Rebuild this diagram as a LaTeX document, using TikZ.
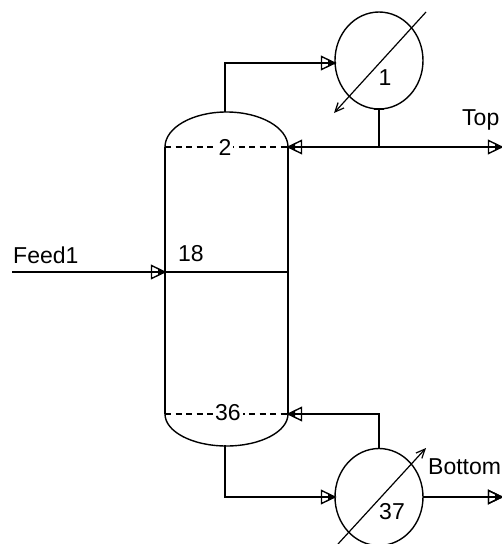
\documentclass[tikz,border=0pt]{standalone}
\usepackage{fontspec}
\setmainfont{Liberation Sans}
\usetikzlibrary{shapes.geometric,decorations.markings,calc,arrows.meta}
\tikzset{
  wire/.style={line width=1.8pt,draw=black},
  flow/.style={wire,postaction={decorate},decoration={markings,mark=at position 1 with {
    \draw[line width=1.4pt,fill=none] (-13.5pt,-6.5pt)--(0pt,0pt)--(-13.5pt,6.5pt)--cycle;
    \fill (-7pt,-3.6pt)--(0pt,0pt)--(-7pt,3.6pt)--cycle;}}},
  tickstart/.style={postaction={decorate},decoration={markings,mark=at position 0 with {
    \draw[line width=1.4pt] (0pt,-5pt)--(0pt,5pt);}}},
  vessel/.style={draw=black,line width=1.4pt,ellipse,minimum width=88pt,minimum height=97pt,inner sep=0pt,outer sep=0pt},
  tray/.style={line width=1.3pt,dash pattern=on 6pt off 4.5pt},
  label/.style={font=\fontsize{23}{25}\selectfont,inner sep=0pt,text=black},
  trayno/.style={label,fill=white,inner xsep=2pt},
  duty/.style={line width=1.2pt,-{Straight Barb[length=9pt,width=8pt]}}
}
\begin{document}
\begin{tikzpicture}[x=1pt,y=-1pt]
\useasboundingbox (0,0) rectangle (502,544);
% heat exchangers
\node[vessel] (cond) at (379,60.5) {};
\node[vessel] (reb) at (379,497) {};
% column ports
\coordinate (TL) at (165,147);
\coordinate (TR) at (288,147);
\coordinate (BL) at (165,414);
\coordinate (BR) at (288,414);
\coordinate (FL) at (165,272);
\coordinate (FR) at (288,272);
\coordinate (colTop) at (225,112);
\coordinate (colBot) at (225,445);
% column body
\draw[wire] (TL) -- (BL);
\draw[wire] (TR) -- (BR);
\draw[line width=1.4pt] (TL) arc[start angle=180,end angle=0,x radius=61.5,y radius=-35];
\draw[line width=1.4pt] (BL) arc[start angle=180,end angle=360,x radius=61.5,y radius=-32];
\draw[tray] (TL) -- (TR);
\draw[tray] (BL) -- (BR);
\draw[wire] (FL) -- (FR);
% free ends
\coordinate (feedIn) at (12,272);
\coordinate (topOut) at (502,147);
\coordinate (botOut) at (502,497);
\coordinate (refluxJ) at (cond.south |- TR);
\coordinate (condS) at (cond.south);
\coordinate (condIn) at (335,63);
\coordinate (rebN) at (reb.north);
\coordinate (c1) at (426,12);
\coordinate (c2) at (334,113);
\coordinate (r1) at (338,544);
\coordinate (r2) at (426,448);
% connectors
\draw[flow] (feedIn) -- (FL);
\draw[flow] (refluxJ) -- (TR);
\draw[flow] (refluxJ) -- (topOut);
\draw[wire] (condS) -- (refluxJ);
\draw[flow] (colTop) |- (condIn);
\draw[flow] (colBot) |- (reb.west);
\draw[flow] (rebN) |- (BR);
\draw[flow,tickstart] (reb.east) -- (botOut);
\draw[line width=1.4pt] ($(condS)+(-5,0)$) -- ($(condS)+(5,0)$);
% heat duty lines
\draw[duty] (c1) -- (c2);
\draw[duty] (r1) -- (r2);
% labels
\node[trayno] (n2) at (225,147) {2};
\node[trayno] (n36) at (228,413) {36};
\node[label] (n18) at (191,254) {18};
\node[label] (n1) at (385,78) {1};
\node[label] (n37) at (392,512) {37};
\node[label,anchor=base west] (feed) at (13,263) {Feed1};
\node[label,anchor=base west] (top) at (462,125) {Top};
\node[label,anchor=base west] (bot) at (428,474) {Bottom};
\end{tikzpicture}
\end{document}
